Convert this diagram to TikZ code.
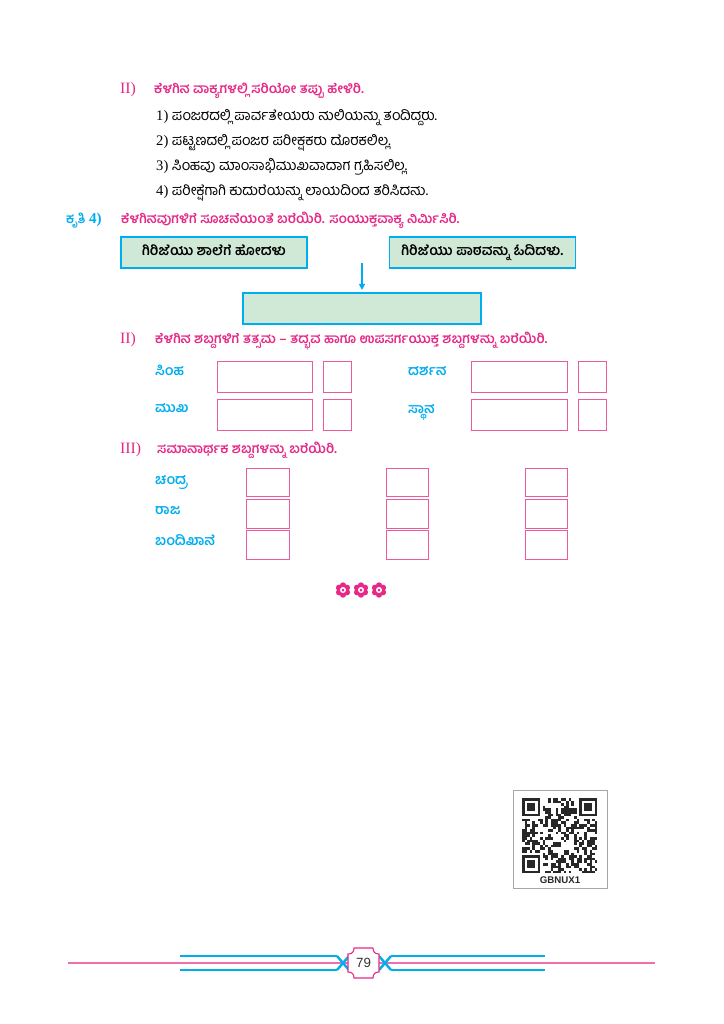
\documentclass[tikz,border=0pt]{standalone}
\usepackage{fontspec}
\newfontfamily\kanfont[Script=Kannada]{Hind Mysuru}
\newfontfamily\serfont{Liberation Serif}
\newfontfamily\sanfont{Liberation Sans}
\usetikzlibrary{arrows.meta}

\definecolor{pinkhead}{RGB}{230,40,135}
\definecolor{pinkbox}{RGB}{236,90,155}
\definecolor{pinkline}{RGB}{240,110,170}
\definecolor{cyanc}{RGB}{0,174,239}
\definecolor{greenc}{RGB}{208,233,214}
\definecolor{qrdark}{RGB}{40,40,40}

\tikzset{
  roman/.style={anchor=west, inner sep=0pt, text=pinkhead, font=\serfont\fontsize{13}{15}\selectfont},
  head/.style={anchor=west, inner sep=0pt, text height=8pt, text depth=3pt, text=pinkhead, font=\kanfont\bfseries\fontsize{11}{13}\selectfont},
  sentence/.style={anchor=west, inner sep=0pt, text height=9pt, text depth=3pt, text=black, font=\kanfont\fontsize{12}{14}\selectfont},
  lbl/.style={anchor=west, inner sep=0pt, text height=8pt, text depth=3pt, text=cyanc, font=\kanfont\bfseries\fontsize{11.5}{13}\selectfont},
  qbox/.style={draw=cyanc, fill=greenc, line width=1pt, minimum width=53.9mm, minimum height=9mm, inner sep=0pt, text height=8.5pt, text depth=3pt, font=\kanfont\bfseries\fontsize{11.5}{13}\selectfont},
  ansbig/.style={draw=pinkbox, line width=0.8pt, minimum width=27.8mm, minimum height=9.1mm},
  anssmall/.style={draw=pinkbox, line width=0.8pt, minimum width=8.3mm, minimum height=9.1mm},
  synbox/.style={draw=pinkbox, line width=0.8pt, minimum width=12.2mm, minimum height=8.3mm},
}

\begin{document}
\begin{tikzpicture}[x=0.29mm, y=-0.29mm]
\useasboundingbox[fill=white] (0,0) rectangle (724,1024);

% II
\node[roman] (r2a) at (120,90) {II)};
\node[head] (h2a) at (154,90) {ಕೆಳಗಿನ ವಾಕ್ಯಗಳಲ್ಲಿ ಸರಿಯೋ ತಪ್ಪು ಹೇಳಿರಿ.};
\node[sentence] (s1) at (156,117) {{\serfont 1)} ಪಂಜರದಲ್ಲಿ ಪಾರ್ವತೇಯರು ಹುಲಿಯನ್ನು ತಂದಿದ್ದರು.};
\node[sentence] (s2) at (156,142) {{\serfont 2)} ಪಟ್ಟಣದಲ್ಲಿ ಪಂಜರ ಪರೀಕ್ಷಕರು ದೊರಕಲಿಲ್ಲ.};
\node[sentence] (s3) at (156,167) {{\serfont 3)} ಸಿಂಹವು ಮಾಂಸಾಭಿಮುಖವಾದಾಗ ಗ್ರಹಿಸಲಿಲ್ಲ.};
\node[sentence] (s4) at (156,192) {{\serfont 4)} ಪರೀಕ್ಷೆಗಾಗಿ ಕುದುರೆಯನ್ನು ಲಾಯದಿಂದ ತರಿಸಿದನು.};

% kruti 4
\node[anchor=west, inner sep=0pt, text height=8pt, text depth=3pt, text=cyanc, font=\kanfont\bfseries\fontsize{11}{13}\selectfont] (k4) at (66,220) {ಕೃತಿ {\serfont\bfseries\fontsize{12.5}{14}\selectfont 4)}};
\node[head] (h4) at (121,220) {ಕೆಳಗಿನವುಗಳಿಗೆ ಸೂಚನೆಯಂತೆ ಬರೆಯಿರಿ. ಸಂಯುಕ್ತವಾಕ್ಯ ನಿರ್ಮಿಸಿರಿ.};
\node[qbox] (school) at (214,252.5) {ಗಿರಿಜೆಯು ಶಾಲೆಗೆ ಹೋದಳು};
\node[qbox] (lesson) at (482.5,252.5) {ಗಿರಿಜೆಯು ಪಾಠವನ್ನು ಓದಿದಳು.};
\node[qbox, minimum width=69mm] (joined) at (362,308.5) {};
\coordinate (join) at (362,263);
\draw[-{Triangle[length=5pt,width=5pt]}, cyanc, line width=1pt, shorten >=2pt] (join) -- (joined.north -| join);

% II tatsama
\node[roman] (r2b) at (120,340) {II)};
\node[head] (h2b) at (155,340) {ಕೆಳಗಿನ ಶಬ್ದಗಳಿಗೆ ತತ್ಸಮ – ತದ್ಭವ ಹಾಗೂ ಉಪಸರ್ಗಯುಕ್ತ ಶಬ್ದಗಳನ್ನು ಬರೆಯಿರಿ.};
\node[lbl] (simha) at (155,372) {ಸಿಂಹ};
\node[lbl] (mukha) at (155,409) {ಮುಖ};
\node[lbl] (darshana) at (408,372) {ದರ್ಶನ};
\node[lbl] (sthana) at (408,410) {ಸ್ಥಾನ};
\node[ansbig] (simhaA) at (265,377) {};
\node[anssmall] (simhaB) at (337.5,377) {};
\node[ansbig] (mukhaA) at (265,415) {};
\node[anssmall] (mukhaB) at (337.5,415) {};
\node[ansbig] (darshanaA) at (519.5,377) {};
\node[anssmall] (darshanaB) at (592.5,377) {};
\node[ansbig] (sthanaA) at (519.5,415) {};
\node[anssmall] (sthanaB) at (592.5,415) {};

% III
\node[roman] (r3) at (120,450) {III)};
\node[head] (h3) at (157,450) {ಸಮಾನಾರ್ಥಕ ಶಬ್ದಗಳನ್ನು ಬರೆಯಿರಿ.};
\node[lbl] (chandra) at (155,481) {ಚಂದ್ರ};
\node[lbl] (raja) at (155,511) {ರಾಜ};
\node[lbl] (bandi) at (155,542) {ಬಂದಿಖಾನೆ};
\foreach \r/\y in {chandra/482.5, raja/514, bandi/545}
  \foreach \c/\x in {1/268, 2/407.5, 3/546.5}
    \node[synbox] (\r\c) at (\x,\y) {};

% flowers
\foreach \cx in {343,361,379} {
  \foreach \a in {0,60,...,300}
    \fill[pinkhead] (\cx,590) ++(\a+30:4.6) circle (3.1);
  \fill[pinkhead] (\cx,590) circle (5);
  \fill[white] (\cx,590) circle (3);
  \fill[pinkhead] (\cx,590) circle (1.5);
}

% QR
\draw[gray!70, line width=0.8pt] (513,790) rectangle (607,888);
\pgfmathsetseed{79}
\foreach \i in {0,...,28} {
  \foreach \j in {0,...,28} {
    \pgfmathtruncatemacro\on{(rnd<0.5) && !((\i<8 && \j<8) || (\i>20 && \j<8) || (\i<8 && \j>20))}
    \ifnum\on=1 \fill[qrdark] (522+\i*2.6,798+\j*2.6) rectangle ++(2.6,2.6); \fi
  }
}
\foreach \fx/\fy in {522/798, 579.2/798, 522/855.2} {
  \fill[qrdark] (\fx,\fy) rectangle ++(18.2,18.2);
  \fill[white] (\fx+2.6,\fy+2.6) rectangle ++(13,13);
  \fill[qrdark] (\fx+5.2,\fy+5.2) rectangle ++(7.8,7.8);
}
\node[inner sep=1pt, fill=white, text=qrdark, font=\sanfont\bfseries\fontsize{8}{9}\selectfont] (qrcode) at (560,880) {GBNUX1};

% footer
\draw[pinkline, line width=1pt] (68,963) -- (655,963);
\draw[cyanc, line width=1.2pt] (180,956) -- (337,956) (180,970) -- (337,970);
\draw[cyanc, line width=1.2pt] (391,956) -- (545,956) (391,970) -- (545,970);
\draw[cyanc, line width=2pt] (337,956) -- (349,970) (337,970) -- (349,956);
\draw[cyanc, line width=2pt] (379,956) -- (391,970) (379,970) -- (391,956);
\draw[pinkhead, fill=white, line width=0.9pt] (354,948) -- (373,948) .. controls (373,952) and (375,954) .. (379,954) -- (379,972) .. controls (375,972) and (373,974) .. (373,978) -- (354,978) .. controls (354,974) and (352,972) .. (348,972) -- (348,954) .. controls (352,954) and (354,952) .. (354,948) -- cycle;
\node[text=black!80, font=\sanfont\fontsize{11}{12}\selectfont] (pageno) at (363.5,963) {79};
\end{tikzpicture}
\end{document}
